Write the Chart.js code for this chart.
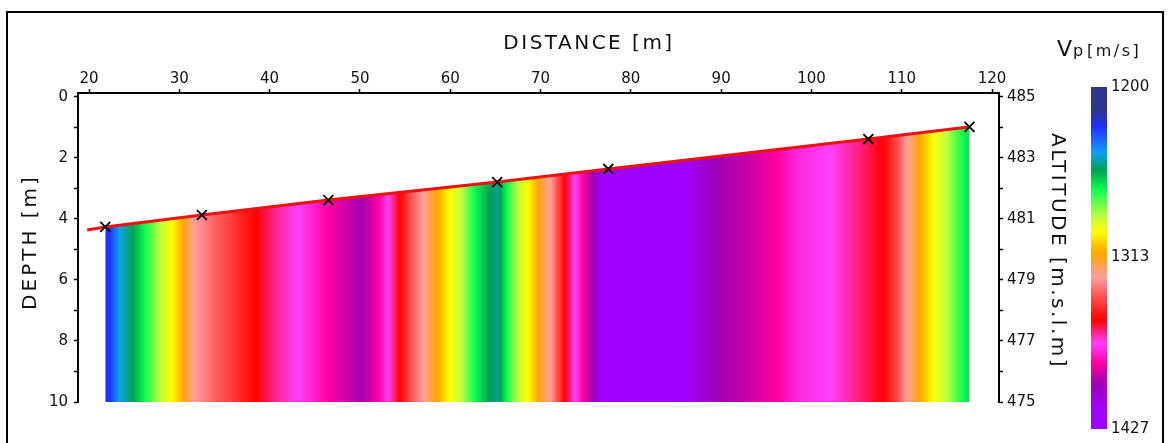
<!DOCTYPE html>
<html lang="it">
<head>
  <meta charset="UTF-8">
  <title>Sezione sismica Vp</title>
  <script src="https://cdn.jsdelivr.net/npm/chart.js"></script>
  <style>
    body { margin: 0; background: #ffffff; }
    #wrap { position: relative; width: 1168px; height: 443px; }
  </style>
</head>
<body>
<div id="wrap"><canvas id="chart"></canvas></div>
<script>
  // geofoni / punti di superficie (distanza [m], profondità [m])
  const surfaceX     = [19.8, 21.8, 32.5, 46.5, 65.2, 77.5, 106.3, 117.6];
  const surfaceDepth = [4.36, 4.26, 3.87, 3.38, 2.79, 2.36, 1.38, 0.98];
  const markerX      = [21.8, 32.5, 46.5, 65.2, 77.5, 106.3, 117.5];
  const markerDepth  = [4.26, 3.87, 3.38, 2.79, 2.36, 1.38, 0.98];

  // profilo di velocità lungo la distanza (bande verticali)
  const vpDistance = [21.8, 22.3, 23.4, 24.8, 26.2, 27.9, 29.2, 30.4, 31.7, 34.0, 36.2, 38.6, 40.6, 43.1,
                      46.5, 50.2, 52.0, 53.1, 54.4, 55.9, 57.0, 58.6, 60.0, 61.3, 62.7, 64.4, 65.2, 66.3,
                      67.5, 68.6, 69.7, 71.1, 72.7, 73.8, 74.7, 75.8, 76.9, 81.0, 86.2, 87.7, 89.9, 92.9,
                      96.2, 98.4, 102.1, 105.0, 107.9, 109.5, 110.6, 112.0, 113.5, 115.0, 116.8, 117.6];
  const vpValues   = [1224, 1228, 1244, 1255, 1268, 1286, 1296, 1310, 1326, 1337, 1345, 1355, 1363, 1370,
                      1383, 1396, 1384, 1370, 1355, 1337, 1326, 1310, 1296, 1286, 1268, 1255, 1250, 1268,
                      1286, 1296, 1310, 1326, 1355, 1370, 1383, 1396, 1418, 1420, 1413, 1405, 1396, 1391,
                      1383, 1375, 1370, 1363, 1355, 1341, 1326, 1310, 1296, 1286, 1268, 1262];

  // scala colori
  const vpMin = 1200, vpMax = 1427;
  const colorbarTicks = [1200, 1313, 1427];
  const cmapStops  = [0, 0.07, 0.117, 0.193, 0.243, 0.301, 0.38, 0.424, 0.485, 0.556, 0.602, 0.681, 0.749, 0.807, 0.865, 0.944, 1];
  const cmapColors = ['#2b3590', '#2b3590', '#2030ff', '#10a0f0', '#00a050', '#10ff50', '#c0ff40', '#ffff00',
                      '#ffa500', '#ffa0a0', '#ff6060', '#ff0000', '#ff40ff', '#ff00a0', '#a000b0', '#a000ff', '#a000ff'];

  const depthTicks = [0, 2, 4, 6, 8, 10];
  const altTop = 485;

  function hexRgb(h) {
    return [parseInt(h.slice(1, 3), 16), parseInt(h.slice(3, 5), 16), parseInt(h.slice(5, 7), 16)];
  }

  function vpColor(v) {
    let f = (v - vpMin) / (vpMax - vpMin);
    f = Math.max(0, Math.min(1, f));
    for (let i = 1; i < cmapStops.length; i++) {
      if (f <= cmapStops[i]) {
        const t = (f - cmapStops[i - 1]) / (cmapStops[i] - cmapStops[i - 1] || 1);
        const a = hexRgb(cmapColors[i - 1]), b = hexRgb(cmapColors[i]);
        const c = a.map((x, k) => Math.round(x + (b[k] - x) * t));
        return `rgb(${c[0]},${c[1]},${c[2]})`;
      }
    }
    return cmapColors[cmapColors.length - 1];
  }

  // gradiente orizzontale costruito dal profilo tramite la scala x
  function sectionFill(context) {
    const chart = context.chart;
    if (!chart.chartArea) return 'rgba(0,0,0,0)';
    const xs = chart.scales.x;
    const p0 = xs.getPixelForValue(vpDistance[0]);
    const p1 = xs.getPixelForValue(vpDistance[vpDistance.length - 1]);
    const g = chart.ctx.createLinearGradient(p0, 0, p1, 0);
    for (let i = 0; i < vpDistance.length - 1; i++) {
      const steps = 6;
      for (let s = 0; s < steps; s++) {
        const t = s / steps;
        const d = vpDistance[i] + (vpDistance[i + 1] - vpDistance[i]) * t;
        const v = vpValues[i] + (vpValues[i + 1] - vpValues[i]) * t;
        g.addColorStop((xs.getPixelForValue(d) - p0) / (p1 - p0), vpColor(v));
      }
    }
    g.addColorStop(1, vpColor(vpValues[vpValues.length - 1]));
    return g;
  }

  function spacedText(c, txt, x, y, spacing) {
    c.letterSpacing = spacing + 'px';
    c.fillText(txt, x, y);
    c.letterSpacing = '0px';
  }

  const decorations = {
    id: 'decorations',
    afterDraw(chart) {
      const c = chart.ctx;
      c.save();
      // cornice
      c.strokeStyle = '#000';
      c.lineWidth = 2;
      c.strokeRect(7, 12, 1156, 445);

      c.fillStyle = '#111';
      c.textAlign = 'center';
      c.textBaseline = 'middle';
      c.font = '20px "DejaVu Sans"';
      spacedText(c, 'DISTANCE [m]', 589, 44, 2.5);

      c.save();
      c.translate(31, 242);
      c.rotate(-Math.PI / 2);
      spacedText(c, 'DEPTH [m]', 0, 0, 3);
      c.restore();

      c.save();
      c.translate(1057, 251);
      c.rotate(Math.PI / 2);
      spacedText(c, 'ALTITUDE [m.s.l.m]', 0, 0, 2.5);
      c.restore();

      // barra colori
      const bx = 1091, bw = 16, by0 = 87, by1 = 429;
      const g = c.createLinearGradient(0, by0, 0, by1);
      cmapStops.forEach((s, i) => g.addColorStop(s, cmapColors[i]));
      c.fillStyle = g;
      c.fillRect(bx, by0, bw, by1 - by0);

      c.fillStyle = '#111';
      c.textAlign = 'left';
      c.font = '15px "DejaVu Sans"';
      colorbarTicks.forEach(v => {
        const y = by0 + (v - vpMin) / (vpMax - vpMin) * (by1 - by0);
        c.fillText(String(v), bx + 20, y);
      });

      c.textBaseline = 'alphabetic';
      c.font = '22px "DejaVu Sans"';
      c.fillText('V', 1057, 56);
      c.font = '16px "DejaVu Sans"';
      c.fillText('p', 1073, 56);
      spacedText(c, '[m/s]', 1087, 56, 2.5);
      c.restore();
    }
  };

  const tickFont = { family: 'DejaVu Sans', size: 15 };
  const axisGrid = { drawOnChartArea: false, color: '#000', tickColor: '#000', tickLength: 4, tickWidth: 1.5 };
  const axisBorder = { color: '#000', width: 2 };

  const ctx = document.getElementById('chart').getContext('2d');
  new Chart(ctx, {
    type: 'line',
    data: {
      datasets: [
        {
          label: 'geofoni',
          data: markerX.map((x, i) => ({ x, y: markerDepth[i] })),
          showLine: false,
          pointStyle: 'crossRot',
          pointRadius: 7,
          pointBorderColor: '#000',
          pointBorderWidth: 1.8,
          pointBackgroundColor: '#000'
        },
        {
          label: 'superficie',
          data: surfaceX.map((x, i) => ({ x, y: surfaceDepth[i] })),
          borderColor: '#ee1111',
          borderWidth: 3,
          pointRadius: 0,
          fill: false,
          tension: 0
        },
        {
          label: 'Vp',
          data: markerX.map((x, i) => ({ x, y: markerDepth[i] })),
          borderColor: 'rgba(0,0,0,0)',
          borderWidth: 1,
          pointRadius: 0,
          backgroundColor: sectionFill,
          fill: { value: 10 },
          tension: 0
        }
      ]
    },
    options: {
      responsive: true,
      maintainAspectRatio: false,
      animation: false,
      layout: { padding: { top: 0, left: 0, right: 0, bottom: 41 } },
      plugins: { legend: { display: false }, tooltip: { enabled: false } },
      scales: {
        x: {
          type: 'linear',
          position: 'top',
          min: 18.78,
          max: 120.77,
          afterFit: s => { s.height = 93; },
          grid: axisGrid,
          border: axisBorder,
          ticks: { stepSize: 10, includeBounds: false, color: '#111', font: tickFont, padding: 1, maxRotation: 0 }
        },
        y: {
          type: 'linear',
          position: 'left',
          reverse: true,
          min: -0.13,
          max: 10,
          afterFit: s => { s.width = 78; },
          grid: axisGrid,
          border: axisBorder,
          ticks: {
            stepSize: 1, includeBounds: false, color: '#111', font: tickFont, padding: 6,
            callback: v => depthTicks.includes(v) ? String(v) : ''
          }
        },
        y2: {
          type: 'linear',
          position: 'right',
          min: altTop - 10,
          max: altTop + 0.13,
          afterFit: s => { s.width = 169; },
          grid: axisGrid,
          border: axisBorder,
          ticks: {
            stepSize: 1, includeBounds: false, color: '#111', font: tickFont, padding: 4,
            callback: v => depthTicks.includes(altTop - v) ? String(v) : ''
          }
        }
      }
    },
    plugins: [decorations]
  });
</script>
</body>
</html>
